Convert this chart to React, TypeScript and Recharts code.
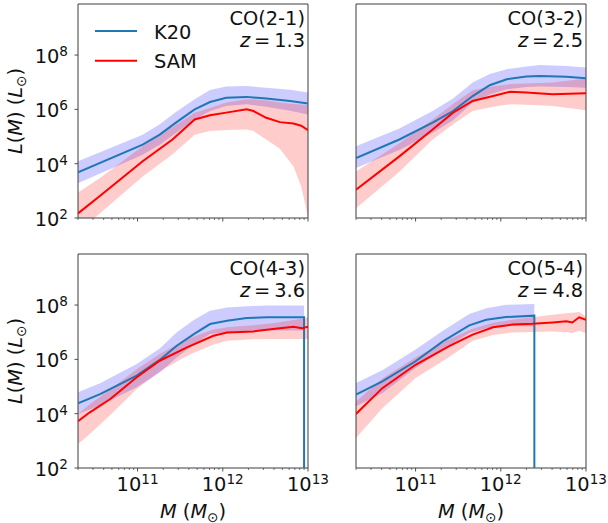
import {
  ComposedChart,
  Area,
  Line,
  XAxis,
  YAxis,
  ReferenceArea,
  Legend,
  Label,
} from "recharts";

const FONT = "DejaVu Sans";
const FS = 19.4;
const FS_SMALL = 13.6;
const TEXT_COLOR = "#111";
const AXIS_COLOR = "#3d3d3d";
const K20_COLOR = "#1f77b4";
const SAM_COLOR = "#ff0000";

// axes are in log10 units: x = log10 M [Msun], y = log10 L [Lsun]
const X_MIN = Math.log10(2e10);
const X_MAX = 13;
const Y_MIN = 2;
const Y_MAX = 9.88;

const X_MAJOR = [11, 12, 13];
const X_MINOR = [10, 11, 12]
  .flatMap((d) => [2, 3, 4, 5, 6, 7, 8, 9].map((k) => d + Math.log10(k)))
  .filter((v) => v >= X_MIN - 1e-9);
const Y_MAJOR = [2, 4, 6, 8];

// rows: [log10 M, median, lower, upper]; null band = no shading
type Row = [number, number, number | null, number | null];

const K20_CO21: Row[] = [
  [10.301, 3.68, 3.28, 4.09],
  [11.06, 4.7, 4.33, 5.07],
  [11.26, 5.07, 4.7, 5.45],
  [11.45, 5.51, 5.13, 5.9],
  [11.67, 6.0, 5.63, 6.37],
  [11.85, 6.27, 5.94, 6.71],
  [12.04, 6.43, 6.12, 6.84],
  [12.28, 6.46, 6.19, 6.86],
  [12.51, 6.4, 6.1, 6.8],
  [12.79, 6.31, 5.95, 6.72],
  [13.0, 6.22, 5.81, 6.62],
];

const SAM_CO21: Row[] = [
  [10.301, 2.17, 1.5, 2.94],
  [10.55, 2.79, 2.15, 3.45],
  [11.06, 4.09, 3.53, 4.64],
  [11.41, 4.89, 4.35, 5.35],
  [11.67, 5.63, 5.07, 5.88],
  [11.85, 5.78, 5.2, 6.05],
  [12.04, 5.88, 5.24, 6.25],
  [12.28, 6.0, 5.26, 6.37],
  [12.36, 5.94, 5.2, 6.37],
  [12.51, 5.69, 4.89, 6.33],
  [12.67, 5.53, 4.55, 6.25],
  [12.83, 5.48, 3.9, 6.2],
  [12.92, 5.4, 3.16, 6.18],
  [13.0, 5.23, 2.05, 6.15],
];

const K20_CO32: Row[] = [
  [10.301, 4.21, 3.84, 4.64],
  [10.81, 4.89, 4.5, 5.3],
  [11.2, 5.51, 5.14, 5.94],
  [11.44, 5.94, 5.6, 6.4],
  [11.67, 6.49, 6.25, 6.99],
  [11.87, 6.89, 6.55, 7.3],
  [12.07, 7.11, 6.74, 7.48],
  [12.3, 7.21, 6.82, 7.58],
  [12.46, 7.23, 6.84, 7.63],
  [12.77, 7.2, 6.82, 7.6],
  [13.0, 7.15, 6.8, 7.54],
];

const SAM_CO32: Row[] = [
  [10.301, 3.04, 2.36, 3.71],
  [10.81, 4.27, 3.7, 4.75],
  [11.2, 5.26, 4.89, 5.63],
  [11.44, 5.88, 5.45, 6.2],
  [11.67, 6.31, 5.94, 6.7],
  [11.91, 6.49, 6.1, 6.85],
  [12.11, 6.65, 6.19, 6.93],
  [12.3, 6.62, 6.17, 6.95],
  [12.61, 6.56, 6.12, 6.99],
  [13.0, 6.59, 5.97, 7.14],
];

const K20_CO43: Row[] = [
  [10.301, 4.38, 3.99, 4.79],
  [10.56, 4.72, 4.3, 5.12],
  [10.99, 5.4, 4.97, 5.83],
  [11.26, 5.98, 5.52, 6.4],
  [11.46, 6.5, 6.07, 7.0],
  [11.66, 6.93, 6.55, 7.45],
  [11.85, 7.3, 6.93, 7.79],
  [12.05, 7.42, 7.0, 7.91],
  [12.28, 7.52, 7.04, 7.96],
  [12.52, 7.55, 7.06, 7.98],
  [12.954, 7.55, 7.06, 7.98],
  [12.954, 0, null, null],
];

const SAM_CO43: Row[] = [
  [10.301, 3.72, 2.88, 3.99],
  [10.44, 4.05, 3.25, 4.35],
  [10.68, 4.54, 3.95, 4.9],
  [10.99, 5.34, 4.91, 5.64],
  [11.26, 5.95, 5.55, 6.2],
  [11.58, 6.44, 6.13, 6.75],
  [11.89, 6.87, 6.55, 7.1],
  [12.05, 6.99, 6.69, 7.18],
  [12.36, 7.03, 6.74, 7.26],
  [12.59, 7.12, 6.75, 7.33],
  [12.83, 7.2, 6.75, 7.45],
  [12.93, 7.15, 6.75, 7.5],
  [13.0, 7.2, 6.75, 7.55],
];

const K20_CO54: Row[] = [
  [10.301, 4.7, 4.27, 5.13],
  [10.61, 5.19, 4.75, 5.6],
  [11.0, 5.93, 5.68, 6.36],
  [11.32, 6.66, 6.35, 7.05],
  [11.63, 7.25, 6.97, 7.67],
  [11.83, 7.46, 7.15, 7.88],
  [12.06, 7.56, 7.25, 8.01],
  [12.394, 7.61, 7.21, 8.04],
  [12.394, 0, null, null],
];

const SAM_CO54: Row[] = [
  [10.301, 3.99, 3.1, 4.45],
  [10.61, 4.94, 4.2, 5.3],
  [11.0, 5.8, 5.31, 6.07],
  [11.4, 6.5, 6.1, 6.75],
  [11.67, 6.91, 6.69, 7.13],
  [11.91, 7.18, 6.9, 7.35],
  [12.14, 7.28, 6.99, 7.46],
  [12.37, 7.31, 7.01, 7.55],
  [12.61, 7.36, 7.03, 7.64],
  [12.77, 7.4, 7.0, 7.7],
  [12.84, 7.36, 6.97, 7.72],
  [12.92, 7.55, 7.05, 7.74],
  [13.0, 7.46, 6.97, 7.58],
];

const PLOT_W = 230;
const PLOT_H = 214;
const Y_AXIS_W = 78;
const MARGIN_TOP = 4;
const MARGIN_RIGHT = 22;

const PANELS = [
  { name: "CO(2-1)", z: "1.3", k20: K20_CO21, sam: SAM_CO21, left: 78, top: 4, yLabels: true, xLabels: false, legend: true },
  { name: "CO(3-2)", z: "2.5", k20: K20_CO32, sam: SAM_CO32, left: 356, top: 4, yLabels: false, xLabels: false, legend: false },
  { name: "CO(4-3)", z: "3.6", k20: K20_CO43, sam: SAM_CO43, left: 78, top: 253.5, yLabels: true, xLabels: true, legend: false },
  { name: "CO(5-4)", z: "4.8", k20: K20_CO54, sam: SAM_CO54, left: 356, top: 253.5, yLabels: false, xLabels: true, legend: false },
];

function buildTable(k20: Row[], sam: Row[]) {
  const rows: any[] = [
    ...k20.map(([m, med, lo, hi]) => ({ m, k20: med, k20Band: lo == null ? undefined : [lo, hi] })),
    ...sam.map(([m, med, lo, hi]) => ({ m, sam: med, samBand: lo == null ? undefined : [lo, hi] })),
  ];
  return rows.sort((a, b) => a.m - b.m);
}

const XTick = (props: any) => {
  const { x, y, payload, labels } = props;
  const v = payload.value;
  const major = Math.abs(v - Math.round(v)) < 1e-6;
  return (
    <g>
      <line
        x1={x}
        x2={x}
        y1={y}
        y2={y + (major ? 3.5 : 2)}
        stroke={AXIS_COLOR}
        strokeWidth={major ? 0.9 : 0.7}
      />
      {major && labels && (
        <text x={x} y={y + 22.5} textAnchor="middle" fontFamily={FONT} fontSize={FS} fill={TEXT_COLOR}>
          10
          <tspan dy={-7} fontSize={FS_SMALL}>
            {Math.round(v)}
          </tspan>
        </text>
      )}
    </g>
  );
};

const YTick = (props: any) => {
  const { x, y, payload } = props;
  return (
    <g>
      <line x1={x - 3.5} x2={x} y1={y} y2={y} stroke={AXIS_COLOR} strokeWidth={0.9} />
      <text x={x - 10} y={y + 8} textAnchor="end" fontFamily={FONT} fontSize={FS} fill={TEXT_COLOR}>
        10
        <tspan dy={-7} fontSize={FS_SMALL}>
          {Math.round(payload.value)}
        </tspan>
      </text>
    </g>
  );
};

const YLabel = (props: any) => {
  const { viewBox } = props;
  const x = viewBox.x + 22;
  const y = viewBox.y + viewBox.height / 2;
  return (
    <text
      x={x}
      y={y}
      transform={`rotate(-90 ${x} ${y})`}
      textAnchor="middle"
      fontFamily={FONT}
      fontSize={FS}
      fill={TEXT_COLOR}
    >
      <tspan fontStyle="italic">L</tspan>(<tspan fontStyle="italic">M</tspan>) (
      <tspan fontStyle="italic">L</tspan>
      <tspan dy={4} fontSize={FS_SMALL}>
        ⊙
      </tspan>
      <tspan dy={-4}>)</tspan>
    </text>
  );
};

const XLabel = (props: any) => {
  const { viewBox } = props;
  const x = viewBox.x + viewBox.width / 2;
  const y = viewBox.y + 49.5;
  return (
    <text x={x} y={y} textAnchor="middle" fontFamily={FONT} fontSize={FS} fill={TEXT_COLOR}>
      <tspan fontStyle="italic">M</tspan> (<tspan fontStyle="italic">M</tspan>
      <tspan dy={4} fontSize={FS_SMALL}>
        ⊙
      </tspan>
      <tspan dy={-4}>)</tspan>
    </text>
  );
};

const Corner = (props: any) => {
  const { viewBox, name, z } = props;
  const rx = viewBox.x + viewBox.width - 3;
  return (
    <g>
      <text x={rx} y={viewBox.y + 21} textAnchor="end" fontFamily={FONT} fontSize={FS} fill={TEXT_COLOR}>
        {name}
      </text>
      <text x={rx} y={viewBox.y + 43} textAnchor="end" fontFamily={FONT} fontSize={FS} fill={TEXT_COLOR}>
        <tspan fontStyle="italic">z</tspan>
        {"\u2009=\u2009" + z}
      </text>
    </g>
  );
};

const LegendBox = () => (
  <svg width={130} height={64} style={{ display: "block" }}>
    <line x1={5} x2={47} y1={16} y2={16} stroke={K20_COLOR} strokeWidth={2} />
    <text x={64} y={24} fontFamily={FONT} fontSize={FS} fill={TEXT_COLOR}>
      K20
    </text>
    <line x1={5} x2={47} y1={45.7} y2={45.7} stroke={SAM_COLOR} strokeWidth={2} />
    <text x={64} y={53.3} fontFamily={FONT} fontSize={FS} fill={TEXT_COLOR}>
      SAM
    </text>
  </svg>
);

const Panel = ({ p }: { p: (typeof PANELS)[number] }) => {
  const data = buildTable(p.k20, p.sam);
  const xAxisH = p.xLabels ? 60 : 20;
  return (
    <div style={{ position: "absolute", left: p.left - Y_AXIS_W, top: p.top - MARGIN_TOP }}>
      <ComposedChart
        width={Y_AXIS_W + PLOT_W + MARGIN_RIGHT}
        height={MARGIN_TOP + PLOT_H + xAxisH}
        data={data}
        margin={{ top: MARGIN_TOP, right: MARGIN_RIGHT, bottom: 0, left: 0 }}
      >
        <XAxis
          type="number"
          dataKey="m"
          domain={[X_MIN, X_MAX]}
          allowDataOverflow
          ticks={[...X_MINOR, ...X_MAJOR]}
          interval={0}
          tickSize={0}
          tickMargin={0}
          tickLine={false}
          axisLine={false}
          height={xAxisH}
          tick={(t: any) => <XTick {...t} labels={p.xLabels} />}
        >
          {p.xLabels && <Label content={XLabel} />}
        </XAxis>
        <YAxis
          type="number"
          domain={[Y_MIN, Y_MAX]}
          allowDataOverflow
          ticks={Y_MAJOR}
          interval={0}
          width={Y_AXIS_W}
          tickSize={0}
          tickMargin={0}
          tickLine={false}
          axisLine={false}
          tick={p.yLabels ? (t: any) => <YTick {...t} /> : false}
        >
          {p.yLabels && <Label content={YLabel} />}
        </YAxis>
        <Area
          dataKey="k20Band"
          type="linear"
          stroke="none"
          fill="#0000ff"
          fillOpacity={0.2}
          connectNulls
          isAnimationActive={false}
        />
        <Area
          dataKey="samBand"
          type="linear"
          stroke="none"
          fill="#ff0000"
          fillOpacity={0.2}
          connectNulls
          isAnimationActive={false}
        />
        <Line
          dataKey="k20"
          type="linear"
          stroke={K20_COLOR}
          strokeWidth={2}
          dot={false}
          connectNulls
          isAnimationActive={false}
        />
        <Line
          dataKey="sam"
          type="linear"
          stroke={SAM_COLOR}
          strokeWidth={2}
          dot={false}
          connectNulls
          isAnimationActive={false}
        />
        <ReferenceArea
          x1={X_MIN}
          x2={X_MAX}
          y1={Y_MIN}
          y2={Y_MAX}
          fill="none"
          stroke={AXIS_COLOR}
          strokeWidth={1}
          label={(lp: any) => <Corner {...lp} name={p.name} z={p.z} />}
        />
        {p.legend && (
          <Legend
            layout="vertical"
            align="center"
            verticalAlign="middle"
            content={() => <LegendBox />}
            wrapperStyle={{ left: 90, top: 15, width: 130, height: 64 }}
          />
        )}
      </ComposedChart>
    </div>
  );
};

export default function App() {
  return (
    <div
      style={{
        position: "absolute",
        left: 0,
        top: 0,
        width: 608,
        height: 523,
        background: "#fff",
        fontFamily: FONT,
      }}
    >
      {PANELS.map((p) => (
        <Panel key={p.name} p={p} />
      ))}
    </div>
  );
}
